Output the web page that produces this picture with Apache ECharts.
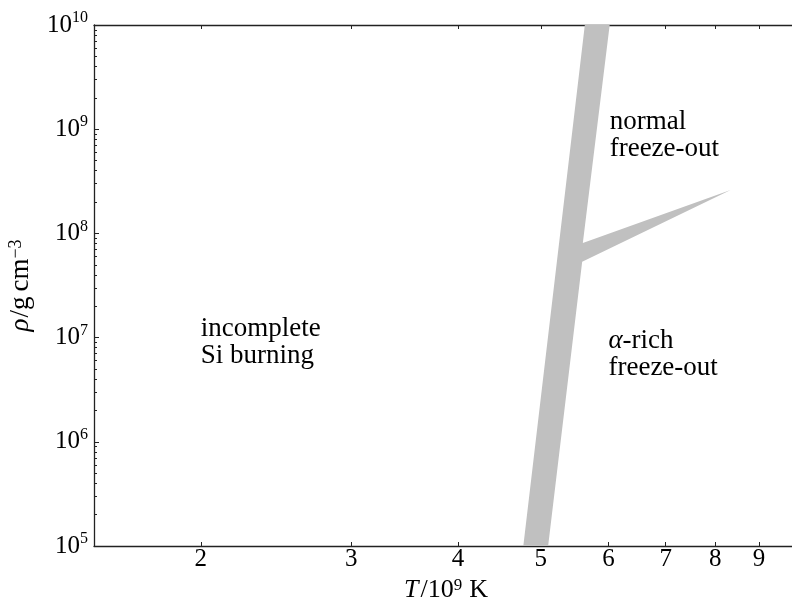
<!DOCTYPE html>
<html><head><meta charset="utf-8">
<script src="https://cdn.jsdelivr.net/npm/echarts@6/dist/echarts.min.js"></script>
<style>html,body{margin:0;padding:0;background:#fff}#c{width:792px;height:607px}</style>
</head><body><div id="c"></div>
<script>
// ---- data ----
const xTicks = [2, 3, 4, 5, 6, 7, 8, 9];
const yTicks = [1e5, 1e6, 1e7, 1e8, 1e9, 1e10];
const yMinorMultiples = [2, 3, 4, 5, 6, 7, 8, 9];
// grey region boundary (T in 1e9 K, rho in g/cm^3), traced clockwise
const bandT   = [4.77, 5.63, 6.02, 5.60, 8.34, 5.59, 5.10];
const bandRho = [1e5, 1e10, 1e10, 8.09e7, 2.61e8, 5.35e7, 1e5];
// region annotations (top-left anchor of each text block)
const noteText = ['incomplete\nSi burning', 'normal\nfreeze-out', '{i|α}-rich\nfreeze-out'];
const noteT    = [2.0, 6.02, 6.0];
const noteRho  = [1.62e7, 1.60e9, 1.26e7];

const yMinorTicks = [];
yTicks.slice(0, -1).forEach(d => yMinorMultiples.forEach(m => yMinorTicks.push(m * d)));

const FONT = 'Liberation Serif';
const AX = '#222';

const chart = echarts.init(document.getElementById('c'));
const option = {
  backgroundColor: '#fff',
  animation: false,
  grid: { left: 94, right: -6, top: 25, bottom: 61, containLabel: false, outerBoundsMode: 'none' },
  xAxis: [{
    type: 'log', min: 1.5, max: 10, position: 'bottom',
    axisLine: { show: true, lineStyle: { color: AX, width: 1.3 } },
    axisTick: { show: true, inside: true, length: 4, customValues: xTicks, lineStyle: { color: AX, width: 1 } },
    axisLabel: { show: true, customValues: xTicks, margin: 1, color: '#000', fontFamily: FONT, fontSize: 25,
      formatter: v => String(Math.round(v)) },
    splitLine: { show: false },
    name: '{i|T}{n|/10}{s|9}{k|K}', nameLocation: 'middle', nameGap: 30,
    nameTextStyle: { color: '#000', rich: {
      i: { fontFamily: FONT, fontSize: 26, fontStyle: 'italic', color: '#000', padding: [0, 2, 0, 0] },
      n: { fontFamily: FONT, fontSize: 26, color: '#000' },
      s: { fontFamily: FONT, fontSize: 17, color: '#000', verticalAlign: 'top' },
      k: { fontFamily: FONT, fontSize: 26, color: '#000', padding: [0, 0, 0, 7] } } }
  }, {
    type: 'log', min: 1.5, max: 10, position: 'top',
    axisLine: { show: true, lineStyle: { color: AX, width: 1.3 } },
    axisTick: { show: true, inside: true, length: 4, customValues: xTicks, lineStyle: { color: AX, width: 1 } },
    axisLabel: { show: false }, splitLine: { show: false }
  }],
  yAxis: [{
    type: 'log', min: 1e5, max: 1e10, position: 'left',
    axisLine: { show: true, lineStyle: { color: AX, width: 1.3 } },
    axisTick: { show: true, inside: true, length: 5, customValues: yTicks, lineStyle: { color: AX, width: 1 } },
    axisLabel: { show: true, customValues: yTicks, margin: 6, color: '#000',
      formatter: v => '{b|10}{s|' + Math.round(Math.log10(v)) + '}',
      rich: {
        b: { fontFamily: FONT, fontSize: 25, color: '#000', lineHeight: 30 },
        s: { fontFamily: FONT, fontSize: 16, color: '#000', verticalAlign: 'top', lineHeight: 16 } } },
    splitLine: { show: false },
    name: '{i|ρ}{n|/g}{c|cm}{s|−3}', nameLocation: 'middle', nameGap: 60,
    nameTextStyle: { color: '#000', rich: {
      i: { fontFamily: FONT, fontSize: 27, fontStyle: 'italic', color: '#000', padding: [0, 1, 0, 0] },
      n: { fontFamily: FONT, fontSize: 27, color: '#000' },
      c: { fontFamily: FONT, fontSize: 27, color: '#000', padding: [0, 0, 0, 5] },
      s: { fontFamily: FONT, fontSize: 18, color: '#000', verticalAlign: 'top' } } }
  }, {
    type: 'log', min: 1e5, max: 1e10, position: 'left', offset: 0,
    axisLine: { show: false },
    axisTick: { show: true, inside: true, length: 3, customValues: yMinorTicks, lineStyle: { color: AX, width: 1 } },
    axisLabel: { show: false }, splitLine: { show: false }
  }],
  series: [{
    type: 'custom',
    xAxisIndex: 0, yAxisIndex: 0,
    clip: true,
    data: bandT.map((t, i) => [t, bandRho[i]]),
    renderItem: (params, api) => {
      if (params.dataIndex !== 0) return null;
      const pts = bandT.map((t, i) => api.coord([t, bandRho[i]]));
      return { type: 'polygon', shape: { points: pts }, style: { fill: '#c0c0c0', stroke: null } };
    }
  }, {
    type: 'custom',
    xAxisIndex: 0, yAxisIndex: 0,
    clip: false,
    data: noteT.map((t, i) => [t, noteRho[i]]),
    renderItem: (params, api) => {
      const p = api.coord([api.value(0), api.value(1)]);
      return { type: 'text', x: p[0], y: p[1], style: {
        text: noteText[params.dataIndex], fontFamily: FONT, fontSize: 27, lineHeight: 27,
        fill: '#000', align: 'left', verticalAlign: 'top',
        rich: { i: { fontFamily: FONT, fontSize: 27, fontStyle: 'italic', fill: '#000' } } } };
    }
  }]
};
chart.setOption(option);
</script>
</body></html>
